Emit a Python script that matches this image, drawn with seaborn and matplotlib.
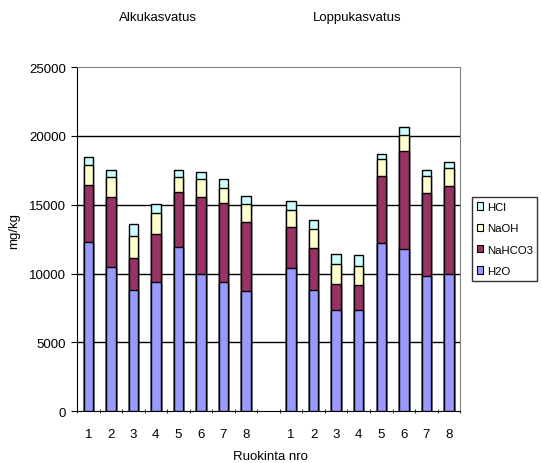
import matplotlib
matplotlib.use("Agg")
import matplotlib.pyplot as plt
from matplotlib.patches import Patch
import numpy as np
import pandas as pd
import seaborn as sns

# data (mg/kg), two phases x 8 feedings
feedings = ["1", "2", "3", "4", "5", "6", "7", "8"]
phases = ["Alkukasvatus", "Loppukasvatus"]
h2o = [12300, 10500, 8800, 9400, 11900, 10000, 9400, 8700,
       10400, 8800, 7350, 7350, 12200, 11800, 9800, 10000]
nahco3 = [4150, 5050, 2350, 3500, 4050, 5550, 5700, 5050,
          3000, 3050, 1900, 1850, 4900, 7100, 6050, 6350]
naoh = [1450, 1450, 1600, 1500, 1050, 1300, 1150, 1300,
        1200, 1400, 1450, 1350, 1200, 1200, 1250, 1300]
hcl = [600, 550, 850, 650, 550, 550, 600, 550,
       650, 650, 750, 800, 400, 550, 400, 450]

series = ["H2O", "NaHCO3", "NaOH", "HCl"]
colors = {"H2O": "#9999FF", "NaHCO3": "#993366", "NaOH": "#FFFFCC", "HCl": "#CCFFFF"}

cats = [f"{p[0]}{f}" for p in phases for f in feedings]
order = cats[:8] + [""] + cats[8:]

df = pd.DataFrame({"cat": cats, "H2O": h2o, "NaHCO3": nahco3,
                   "NaOH": naoh, "HCl": hcl})
cum = df[series].cumsum(axis=1)
cum["cat"] = df["cat"]

plt.rcParams["font.family"] = ["Liberation Sans", "DejaVu Sans"]
fs = 9.5
fig = plt.figure(figsize=(5.42, 4.64), dpi=100)
ax = fig.add_axes([0.142, 0.112, 0.707, 0.741])

for s in reversed(series):
    sns.barplot(data=cum, x="cat", y=s, order=order, color=colors[s],
                edgecolor="black", linewidth=1, width=0.42, saturation=1,
                ax=ax, zorder=3)

ax.set_ylim(0, 25000)
ax.set_yticks(np.arange(0, 25001, 5000))
ax.set_xlim(-0.5, len(order) - 0.5)
ax.set_xticks(range(len(order)))
ax.set_xticklabels(feedings + [""] + feedings)
ax.set_xticks(np.arange(-0.5, len(order), 1.0), minor=True)
ax.tick_params(axis="x", which="major", length=0, labelsize=fs, pad=12)
ax.tick_params(axis="x", which="minor", length=3, direction="inout")
ax.tick_params(axis="y", labelsize=fs, length=4, direction="out", pad=4)
for y in range(5000, 25000, 5000):
    ax.axhline(y, color="black", linewidth=1, zorder=1)
ax.set_xlabel("")
ax.set_ylabel("")
for side in ["top", "right"]:
    ax.spines[side].set_color("#808080")
for side in ["left", "bottom"]:
    ax.spines[side].set_color("black")

fig.text(158 / 542, 1 - 18 / 464, phases[0], ha="center", va="center", fontsize=fs)
fig.text(357 / 542, 1 - 18 / 464, phases[1], ha="center", va="center", fontsize=fs)
fig.text(14 / 542, 1 - 231 / 464, "mg/kg", rotation=90, ha="center", va="center", fontsize=fs)
fig.text(270 / 542, 1 - 457 / 464, "Ruokinta nro", ha="center", va="center", fontsize=fs)

handles = [Patch(facecolor=colors[s], edgecolor="black", linewidth=0.8) for s in reversed(series)]
fig.legend(handles, list(reversed(series)), loc="center left",
           bbox_to_anchor=(472 / 542, 1 - 240 / 464), frameon=True, fancybox=False,
           edgecolor="black", fontsize=8.2, handlelength=0.6, handleheight=0.6,
           handletextpad=0.3, labelspacing=1.0, borderpad=0.4, borderaxespad=0)

fig.savefig("out.png", dpi=100)
